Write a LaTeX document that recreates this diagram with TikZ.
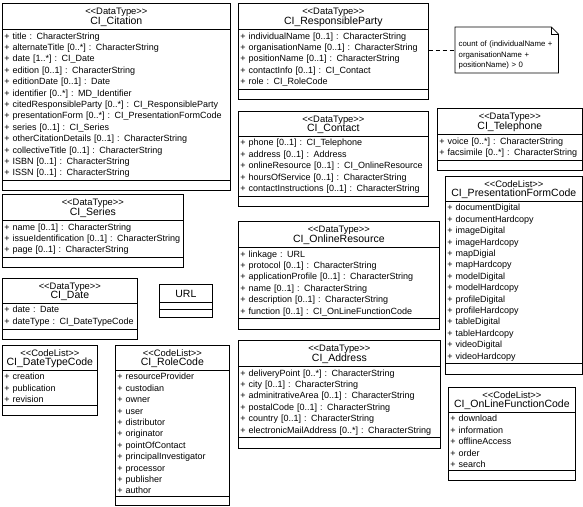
\documentclass[tikz,border=0pt]{standalone}
\usepackage{fontspec}
\setmainfont{Liberation Sans}
\usetikzlibrary{shapes.multipart,calc}

\newcommand{\umlhead}[2]{\centering{\fontsize{9.4}{9}\selectfont\rule{0pt}{8pt}<\kern0pt<#1>\kern0pt>}\\{\fontsize{10.5}{9.3}\selectfont #2\par}}
\newcommand{\umlgap}{\rule{0pt}{4.5pt}}

\begin{document}
\begin{tikzpicture}[x=1pt,y=-1pt,
  umlclass/.style={draw,line width=0.7pt,rectangle split,rectangle split parts=3,
    anchor=north west,align=left,inner xsep=2pt,inner ysep=2.5pt,
    font=\fontsize{9}{11.4}\selectfont},
  umlnote/.style={anchor=north west,align=left,text width=96pt,inner xsep=3.5pt,inner ysep=3.5pt,
    font=\fontsize{7.8}{10.5}\selectfont},
  notelink/.style={dash pattern=on 4pt off 3pt,line width=0.7pt}
]
  \useasboundingbox (0,0) rectangle (583,506);

  % left column
  \node[umlclass,text width=224pt] (citation) at (2,3) {\umlhead{DataType}{CI\_Citation}
    \nodepart{two}+ title : CharacterString\\
    + alternateTitle [0..*] : CharacterString\\
    + date [1..*] : CI\_Date\\
    + edition [0..1] : CharacterString\\
    + editionDate [0..1] : Date\\
    + identifier [0..*] : MD\_Identifier\\
    + citedResponsibleParty [0..*] : CI\_ResponsibleParty\\
    + presentationForm [0..*] : CI\_PresentationFormCode\\
    + series [0..1] : CI\_Series\\
    + otherCitationDetails [0..1] : CharacterString\\
    + collectiveTitle [0..1] : CharacterString\\
    + ISBN [0..1] : CharacterString\\
    + ISSN [0..1] : CharacterString
    \nodepart{three}\umlgap};
  \node[umlclass,text width=177pt] (series) at (2,194) {\umlhead{DataType}{CI\_Series}
    \nodepart{two}+ name [0..1] : CharacterString\\
    + issueIdentification [0..1] : CharacterString\\
    + page [0..1] : CharacterString
    \nodepart{three}\umlgap};
  \node[umlclass,text width=131pt] (date) at (2,278) {\umlhead{DataType}{CI\_Date}
    \nodepart{two}+ date : Date\\
    + dateType : CI\_DateTypeCode
    \nodepart{three}\umlgap};
  \node[umlclass,text width=49pt] (url) at (159,284) {\centering\rule[-2pt]{0pt}{12pt}{\fontsize{10.5}{11}\selectfont URL\par}
    \nodepart{two}\rule{0pt}{2pt}
    \nodepart{three}\rule{0pt}{1.5pt}};
  \node[umlclass,text width=91pt] (datetype) at (2,345) {\umlhead{CodeList}{CI\_DateTypeCode}
    \nodepart{two}+ creation\\
    + publication\\
    + revision
    \nodepart{three}\umlgap};
  \node[umlclass,text width=110pt] (rolecode) at (115,345) {\umlhead{CodeList}{CI\_RoleCode}
    \nodepart{two}+ resourceProvider\\
    + custodian\\
    + owner\\
    + user\\
    + distributor\\
    + originator\\
    + pointOfContact\\
    + principalInvestigator\\
    + processor\\
    + publisher\\
    + author
    \nodepart{three}\rule{0pt}{2.5pt}};

  % middle column
  \node[umlclass,text width=186pt] (respparty) at (238,3) {\umlhead{DataType}{CI\_ResponsibleParty}
    \nodepart{two}+ individualName [0..1] : CharacterString\\
    + organisationName [0..1] : CharacterString\\
    + positionName [0..1] : CharacterString\\
    + contactInfo [0..1] : CI\_Contact\\
    + role : CI\_RoleCode
    \nodepart{three}\umlgap};
  \node[umlclass,text width=186pt] (contact) at (238,111) {\umlhead{DataType}{CI\_Contact}
    \nodepart{two}+ phone [0..1] : CI\_Telephone\\
    + address [0..1] : Address\\
    + onlineResource [0..1] : CI\_OnlineResource\\
    + hoursOfService [0..1] : CharacterString\\
    + contactInstructions [0..1] : CharacterString
    \nodepart{three}\umlgap};
  \node[umlclass,text width=197pt] (onlineres) at (238,221) {\umlhead{DataType}{CI\_OnlineResource}
    \nodepart{two}+ linkage : URL\\
    + protocol [0..1] : CharacterString\\
    + applicationProfile [0..1] : CharacterString\\
    + name [0..1] : CharacterString\\
    + description [0..1] : CharacterString\\
    + function [0..1] : CI\_OnLineFunctionCode
    \nodepart{three}\umlgap};
  \node[umlclass,text width=198pt] (address) at (238,340) {\umlhead{DataType}{CI\_Address}
    \nodepart{two}+ deliveryPoint [0..*] : CharacterString\\
    + city [0..1] : CharacterString\\
    + adminitrativeArea [0..1] : CharacterString\\
    + postalCode [0..1] : CharacterString\\
    + country [0..1] : CharacterString\\
    + electronicMailAddress [0..*] : CharacterString
    \nodepart{three}\umlgap};

  % right column
  \node[umlnote] (note) at (455,27) {\rule{0pt}{16pt}count of (individualName +\\organisationName +\\positionName) > 0};
  \draw[line width=0.7pt] (note.north west) -- ([xshift=-7pt]note.north east) -- ([yshift=-7pt]note.north east)
    -- (note.south east) -- (note.south west) -- cycle;
  \draw[line width=0.7pt] ([xshift=-7pt]note.north east) |- ([yshift=-7pt]note.north east);
  \draw[notelink] (note.west -| respparty.east) -- (note.west);

  \node[umlclass,text width=141pt] (telephone) at (437,108) {\umlhead{DataType}{CI\_Telephone}
    \nodepart{two}+ voice [0..*] : CharacterString\\
    + facsimile [0..*] : CharacterString
    \nodepart{three}\umlgap};
  \node[umlclass,text width=133pt] (presform) at (445,176) {\umlhead{CodeList}{CI\_PresentationFormCode}
    \nodepart{two}+ documentDigital\\
    + documentHardcopy\\
    + imageDigital\\
    + imageHardcopy\\
    + mapDigial\\
    + mapHardcopy\\
    + modelDigital\\
    + modelHardcopy\\
    + profileDigital\\
    + profileHardcopy\\
    + tableDigital\\
    + tableHardcopy\\
    + videoDigital\\
    + videoHardcopy
    \nodepart{three}\umlgap};
  \node[umlclass,text width=123pt] (onlinefunc) at (448,387) {\umlhead{CodeList}{CI\_OnLineFunctionCode}
    \nodepart{two}+ download\\
    + information\\
    + offlineAccess\\
    + order\\
    + search
    \nodepart{three}\umlgap};
\end{tikzpicture}
\end{document}
